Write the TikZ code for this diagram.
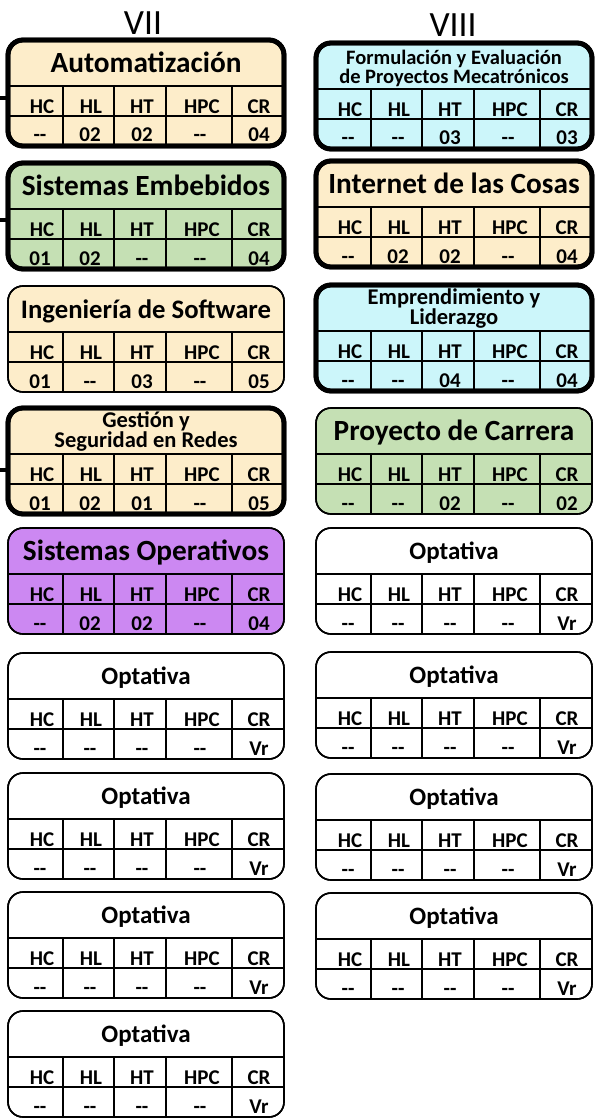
\documentclass[tikz,border=0pt]{standalone}
\usepackage{fontspec}
\setmainfont{Carlito}
\definecolor{corange}{RGB}{253,237,202}
\definecolor{cgreen}{RGB}{197,224,180}
\definecolor{ccyan}{RGB}{204,246,250}
\definecolor{cpurple}{RGB}{204,136,242}
\newcommand\dd{-{}-}
\newcommand\cvals[5]{%
  \node[lab] at (\cx+32,\cy+102) {#1};
  \node[lab] at (\cx+82,\cy+102) {#2};
  \node[lab] at (\cx+134,\cy+102) {#3};
  \node[lab] at (\cx+192,\cy+102) {#4};
  \node[lab] at (\cx+251,\cy+102) {#5};
}
% #1 name, #2 x, #3 y top, #4 box style, #5 title style, #6 title, #7 values
\newcommand\course[7]{%
  \def\cx{#2}\def\cy{#3}%
  \node[box,#4] (#1) at (#2+138,#3+53) {};
  \draw[gridline] (#2,#3+46) -- (#2+276,#3+46);
  \draw[gridline] (#2,#3+76) -- (#2+276,#3+76);
  \foreach \d in {55,106,158,224} {\draw[gridline] (#2+\d,#3+46) -- (#2+\d,#3+106);}
  \node[#5] (#1-title) at (#2+138,#3+23.5) {#6};
  \node[lab] at (#2+34,#3+73.5) {HC};
  \node[lab] at (#2+83,#3+73.5) {HL};
  \node[lab] at (#2+134,#3+73.5) {HT};
  \node[lab] at (#2+194,#3+73.5) {HPC};
  \node[lab] at (#2+251,#3+73.5) {CR};
  \cvals#7
  \node[box,#4,fill=none] at (#2+138,#3+53) {};
}
\begin{document}
\begin{tikzpicture}[x=1pt,y=-1pt,
  box/.style={rounded corners=15pt, inner sep=0pt, minimum width=276pt, minimum height=106pt},
  bthin/.style={draw=black, line width=1.6pt},
  bthick/.style={draw=black, line width=4.8pt},
  gridline/.style={line width=1.1pt},
  ttl/.style={font=\bfseries\fontsize{29.3}{29}\selectfont, inner sep=0pt, text height=18.5pt, text depth=0pt},
  ttlsm/.style={ttl, font=\bfseries\fontsize{26.7}{27}\selectfont},
  ttlo/.style={font=\bfseries\fontsize{25}{25}\selectfont, inner sep=0pt, text height=16pt, text depth=0pt},
  ttltwo/.style={font=\bfseries\fontsize{22.5}{19}\selectfont, inner sep=0pt, align=center},
  ttltwos/.style={font=\bfseries\fontsize{20.5}{19}\selectfont, inner sep=0pt, align=center, yshift=-2pt},
  lab/.style={font=\bfseries\fontsize{21}{21}\selectfont, anchor=base, inner sep=0pt},
  sem/.style={font=\fontsize{35.5}{35.5}\selectfont, anchor=base, inner sep=0pt},
  stub/.style={line width=4.8pt},
]
\useasboundingbox (0,0) rectangle (603,1118);
\node[sem] (s7) at (143,35) {VII};
\node[sem] (s8) at (453,37) {VIII};
% left column
\course{auto}{8}{40}{fill=corange,bthick}{ttl}{Automatización}{{\dd}{02}{02}{\dd}{04}}
\course{emb}{8}{163}{fill=cgreen,bthick}{ttl}{Sistemas Embebidos}{{01}{02}{\dd}{\dd}{04}}
\course{ing}{8}{286}{fill=corange,bthin}{ttlsm}{Ingeniería de Software}{{01}{\dd}{03}{\dd}{05}}
\course{ges}{8}{408}{fill=corange,bthick}{ttltwo}{Gestión y\\Seguridad en Redes}{{01}{02}{01}{\dd}{05}}
\course{so}{8}{528}{fill=cpurple,bthin}{ttl}{Sistemas Operativos}{{\dd}{02}{02}{\dd}{04}}
\course{optl1}{8}{653}{fill=white,bthin}{ttlo}{Optativa}{{\dd}{\dd}{\dd}{\dd}{Vr}}
\course{optl2}{8}{773}{fill=white,bthin}{ttlo}{Optativa}{{\dd}{\dd}{\dd}{\dd}{Vr}}
\course{optl3}{8}{892}{fill=white,bthin}{ttlo}{Optativa}{{\dd}{\dd}{\dd}{\dd}{Vr}}
\course{optl4}{8}{1011}{fill=white,bthin}{ttlo}{Optativa}{{\dd}{\dd}{\dd}{\dd}{Vr}}
% right column
\course{form}{316}{43}{fill=ccyan,bthick}{ttltwos}{Formulación y Evaluación\\de Proyectos Mecatrónicos}{{\dd}{\dd}{03}{\dd}{03}}
\course{iot}{316}{161}{fill=corange,bthick}{ttl}{Internet de las Cosas}{{\dd}{02}{02}{\dd}{04}}
\course{empr}{316}{285}{fill=ccyan,bthick}{ttltwo}{Emprendimiento y\\Liderazgo}{{\dd}{\dd}{04}{\dd}{04}}
\course{proy}{316}{408}{fill=cgreen,bthin}{ttl}{Proyecto de Carrera}{{\dd}{\dd}{02}{\dd}{02}}
\course{optr1}{316}{528}{fill=white,bthin}{ttlo}{Optativa}{{\dd}{\dd}{\dd}{\dd}{Vr}}
\course{optr2}{316}{652}{fill=white,bthin}{ttlo}{Optativa}{{\dd}{\dd}{\dd}{\dd}{Vr}}
\course{optr3}{316}{774}{fill=white,bthin}{ttlo}{Optativa}{{\dd}{\dd}{\dd}{\dd}{Vr}}
\course{optr4}{316}{893}{fill=white,bthin}{ttlo}{Optativa}{{\dd}{\dd}{\dd}{\dd}{Vr}}
% stubs
\coordinate (c1) at (0,98);
\coordinate (c2) at (0,220);
\coordinate (c3) at (0,470);
\draw[stub] (c1) -- (auto.west |- c1);
\draw[stub] (c2) -- (emb.west |- c2);
\draw[stub] (c3) -- (ges.west |- c3);
\end{tikzpicture}
\end{document}
